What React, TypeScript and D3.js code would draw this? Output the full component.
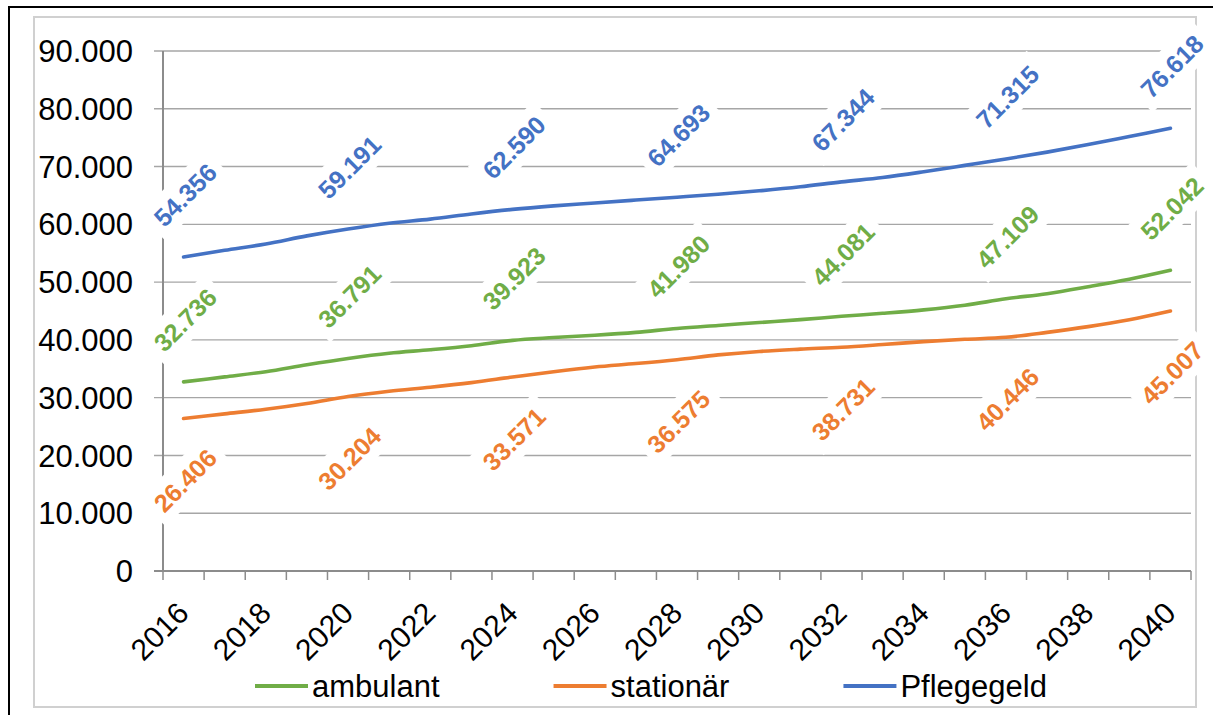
import React, { useEffect, useRef } from 'react';
import * as d3 from 'd3';

const years = d3.range(2016, 2041).map(String);

const ambulant = [
  32.736, 33.6, 34.5, 35.7, 36.791, 37.7, 38.3, 39.0, 39.923, 40.4, 40.8, 41.3, 41.98,
  42.5, 43.0, 43.5, 44.081, 44.6, 45.2, 46.0, 47.109, 48.0, 49.2, 50.5, 52.042,
];
const stationaer = [
  26.406, 27.2, 28.0, 29.0, 30.204, 31.1, 31.8, 32.6, 33.571, 34.5, 35.3, 35.9, 36.575,
  37.4, 38.0, 38.4, 38.731, 39.2, 39.7, 40.1, 40.446, 41.3, 42.3, 43.5, 45.007,
];
const pflegegeld = [
  54.356, 55.5, 56.6, 58.0, 59.191, 60.2, 60.9, 61.8, 62.59, 63.2, 63.7, 64.2, 64.693,
  65.2, 65.8, 66.5, 67.344, 68.1, 69.1, 70.2, 71.315, 72.5, 73.8, 75.2, 76.618,
];

const yTicks = d3.range(0, 90001, 10000);
const labelledIdx = [0, 4, 8, 12, 16, 20, 24];

interface Series {
  name: string;
  values: number[];
  color: string;
  labelSide: number; // -1 above, +1 below
}

const series: Series[] = [
  { name: 'ambulant', values: ambulant, color: '#70ad47', labelSide: -1 },
  { name: 'stationär', values: stationaer, color: '#ed7d31', labelSide: 1 },
  { name: 'Pflegegeld', values: pflegegeld, color: '#4472c4', labelSide: -1 },
];

const W = 1213;
const H = 715;
const FONT = '"Liberation Sans", Arial, sans-serif';

const de = d3.formatLocale({ decimal: ',', thousands: '.', grouping: [3], currency: ['', '€'] });
const fmtInt = de.format(',.0f');
const fmtLabel = de.format(',.3f');

export default function App() {
  const svgRef = useRef<SVGSVGElement>(null);

  useEffect(() => {
    if (!svgRef.current) return;
    const svg = d3.select(svgRef.current);
    svg.selectAll('*').remove();

    // frame
    svg.append('rect')
      .attr('x', 9).attr('y', 7).attr('width', W + 20).attr('height', H + 20)
      .attr('fill', 'white').attr('stroke', '#000').attr('stroke-width', 2);
    svg.append('rect')
      .attr('x', 34).attr('y', 17).attr('width', 1162).attr('height', 690)
      .attr('fill', 'none').attr('stroke', '#d0d0d0').attr('stroke-width', 2);

    const x = d3.scaleBand().domain(years).range([163, 1191]).paddingInner(0).paddingOuter(0);
    const y = d3.scaleLinear().domain([0, 90000]).range([571, 51]);
    const bw = x.bandwidth();
    const cx = (i: number) => (x(years[i]) as number) + bw / 2;

    // gridlines
    svg.append('g')
      .selectAll('line')
      .data(yTicks.filter(t => t > 0))
      .enter().append('line')
      .attr('x1', 154).attr('x2', 1191)
      .attr('y1', d => y(d)).attr('y2', d => y(d))
      .attr('stroke', '#a6a6a6').attr('stroke-width', 1.4);

    // y axis
    svg.append('line')
      .attr('x1', 163).attr('x2', 163).attr('y1', y(90000)).attr('y2', y(0))
      .attr('stroke', '#8c8c8c').attr('stroke-width', 2);
    svg.append('line')
      .attr('x1', 154).attr('x2', 1191).attr('y1', y(0)).attr('y2', y(0))
      .attr('stroke', '#8c8c8c').attr('stroke-width', 2);

    svg.append('g')
      .selectAll('text')
      .data(yTicks)
      .enter().append('text')
      .attr('x', 133).attr('y', d => y(d))
      .attr('dy', '0.36em')
      .attr('text-anchor', 'end')
      .attr('font-family', FONT).attr('font-size', 31).attr('fill', '#000')
      .text(d => fmtInt(d));

    // x ticks
    const tickPos = years.map(yr => x(yr) as number).concat([(x(years[years.length - 1]) as number) + bw]);
    svg.append('g')
      .selectAll('line')
      .data(tickPos)
      .enter().append('line')
      .attr('x1', d => d).attr('x2', d => d)
      .attr('y1', y(0)).attr('y2', y(0) + 9)
      .attr('stroke', '#8c8c8c').attr('stroke-width', 1.5);

    svg.append('g')
      .selectAll('text')
      .data(years.map((yr, i) => ({ yr, i })).filter(d => d.i % 2 === 0))
      .enter().append('text')
      .attr('transform', d => `translate(${cx(d.i) + 7},615) rotate(-45)`)
      .attr('text-anchor', 'end')
      .attr('font-family', FONT).attr('font-size', 30).attr('fill', '#000')
      .text(d => d.yr);

    // lines
    const line = d3.line<number>()
      .x((_, i) => cx(i))
      .y(d => y(d * 1000))
      .curve(d3.curveCatmullRom.alpha(0.5));

    series.forEach(s => {
      svg.append('path')
        .datum(s.values)
        .attr('d', line)
        .attr('fill', 'none')
        .attr('stroke', s.color)
        .attr('stroke-width', 3.6)
        .attr('stroke-linecap', 'round');
    });

    // data labels with white background
    series.forEach(s => {
      const g = svg.append('g');
      labelledIdx.forEach(i => {
        const v = s.values[i];
        const lx = cx(i) + 1.5;
        const ly = y(v * 1000) + s.labelSide * 62;
        const lg = g.append('g').attr('transform', `translate(${lx},${ly}) rotate(-45)`);
        const rect = lg.append('rect').attr('fill', 'white');
        const t = lg.append('text')
          .attr('text-anchor', 'middle')
          .attr('dy', '0.36em')
          .attr('font-family', FONT).attr('font-size', 25).attr('font-weight', 'bold')
          .attr('fill', s.color)
          .text(fmtLabel(v * 1000 / 1000).replace(',', '.'));
        const len = (t.node() as SVGTextElement).getComputedTextLength();
        rect.attr('x', -len / 2 - 8).attr('y', -19).attr('width', len + 16).attr('height', 38);
      });
    });

    // legend
    const legend = svg.append('g');
    let lx = 255;
    const ly = 686;
    series.forEach(s => {
      legend.append('line')
        .attr('x1', lx).attr('x2', lx + 53).attr('y1', ly).attr('y2', ly)
        .attr('stroke', s.color).attr('stroke-width', 4);
      const t = legend.append('text')
        .attr('x', lx + 57).attr('y', ly).attr('dy', '0.36em')
        .attr('font-family', FONT).attr('font-size', 31).attr('fill', '#000')
        .text(s.name);
      const len = (t.node() as SVGTextElement).getComputedTextLength();
      lx += 57 + len + 114;
    });
  }, []);

  return (
    <svg
      ref={svgRef}
      width={W}
      height={H}
      style={{ position: 'absolute', left: 0, top: 0, background: 'white' }}
    />
  );
}
